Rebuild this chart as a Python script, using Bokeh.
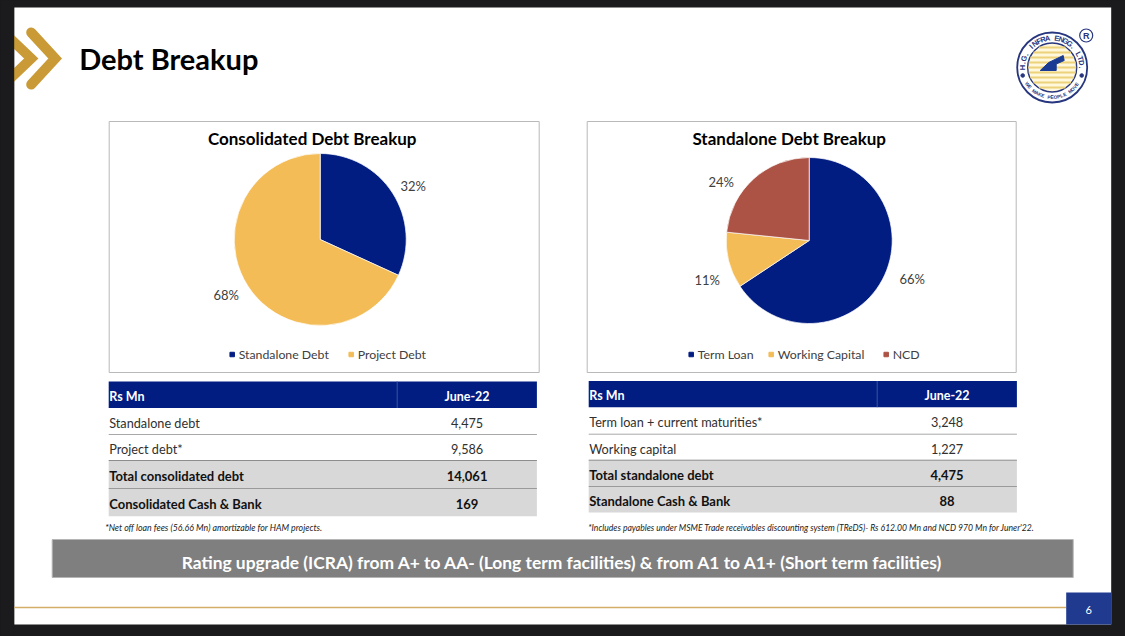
import math
import numpy as np
from bokeh.plotting import figure
from bokeh.models import Range1d
from bokeh.core.properties import value
from bokeh.embed import file_html
from bokeh.resources import INLINE

FONT = "Lato"
title_text = "Debt Breakup"
banner_text = "Rating upgrade (ICRA) from A+ to AA- (Long term facilities) & from A1 to A1+ (Short term facilities)"
page_number = "6"

cons_title = "Consolidated Debt Breakup"
cons_labels = ["Standalone Debt", "Project Debt"]
cons_values = [4475, 9586]
cons_pct = ["32%", "68%"]

stand_title = "Standalone Debt Breakup"
stand_labels = ["Term Loan", "Working Capital", "NCD"]
stand_values = [65.7, 10.9, 23.4]
stand_pct = ["66%", "11%", "24%"]

NAVY, GOLD, RUST = "#021d82", "#f3bc56", "#ad5345"
cons_colors = [NAVY, GOLD]
stand_colors = [NAVY, GOLD, RUST]

table_head = ["Rs Mn", "June-22"]
cons_rows = ["Standalone debt", "Project debt*", "Total consolidated debt", "Consolidated Cash & Bank"]
cons_cells = ["4,475", "9,586", "14,061", "169"]
stand_rows = ["Term loan + current maturities*", "Working capital", "Total standalone debt", "Standalone Cash & Bank"]
stand_cells = ["3,248", "1,227", "4,475", "88"]
cons_note = "*Net off loan fees (56.66 Mn) amortizable for HAM projects."
stand_note = "*Includes payables under MSME Trade receivables discounting system (TReDS)- Rs 612.00 Mn and NCD 970 Mn for Juner'22."

p = figure(width=1125, height=636, output_backend="svg", toolbar_location=None,
           x_range=Range1d(0.3, 1125.3), y_range=Range1d(-1, 635),
           background_fill_color="#1b1b1d", border_fill_color="#1b1b1d",
           min_border=0, outline_line_color=None)
p.axis.visible = False
p.grid.visible = False

def Y(py):
    return 636 - py

def box(x0, x1, y0, y1, fill=None, line=None, lw=1):
    p.quad(left=[x0], right=[x1], top=[Y(y0)], bottom=[Y(y1)], fill_color=fill,
           fill_alpha=1 if fill else 0, line_color=line, line_width=lw)

def hline(x0, x1, y, color, lw=1):
    p.line([x0, x1], [Y(y), Y(y)], line_color=color, line_width=lw)

def txt(x, y, s, size, color="#000000", style="normal", align="left", font=FONT, angle=0):
    p.text([x], [Y(y)], text=[s], text_font=value(font), text_font_size=f"{size}px",
           text_color=color, text_font_style=style, text_align=align,
           text_baseline="middle", angle=angle)

# slide
box(14, 1111, 8, 625, fill="#ffffff")
p.multi_line([[31, 55, 31], [8, 31, 8]],
             [[Y(33), Y(59), Y(85)], [Y(37), Y(59), Y(81)]],
             line_color="#c99a35", line_width=10, line_cap="round", line_join="miter")
box(0, 14, 0, 636, fill="#1b1b1d")
txt(79, 59, title_text, 29, style="bold")

def pie(cx, cy, r, values, colors):
    v = np.array(values, dtype=float)
    ends = np.cumsum(v) / v.sum() * 2 * math.pi
    starts = np.concatenate([[0], ends[:-1]])
    p.wedge(x=[cx] * len(v), y=[Y(cy)] * len(v), radius=r,
            start_angle=list(math.pi / 2 - starts), end_angle=list(math.pi / 2 - ends),
            direction="clock", fill_color=colors, line_color="#ffffff", line_width=0.7)

def legend(xs, labels, colors, y=355):
    for x, s, c in zip(xs, labels, colors):
        p.scatter([x], [Y(y)], size=4.5, marker="square", fill_color=c, line_color=c)
        txt(x + 6.5, y, s, 12.3, color="#404040")

# consolidated panel
box(109, 539, 122, 373, fill="#ffffff", line="#b9b9b9")
txt(312, 139, cons_title, 17, style="bold", align="center")
pie(320, 240, 86, cons_values, cons_colors)
for (x, y), s in zip([(413, 186), (226, 295)], cons_pct):
    txt(x, y, s, 13, color="#404040", align="center")
legend([232, 351], cons_labels, cons_colors)

# standalone panel
box(587, 1016, 122, 373, fill="#ffffff", line="#b9b9b9")
txt(789, 139, stand_title, 17, style="bold", align="center")
pie(809, 241, 83, stand_values, stand_colors)
for (x, y), s in zip([(912, 279), (707, 280), (721, 182)], stand_pct):
    txt(x, y, s, 13, color="#404040", align="center")
legend([691, 771, 886], stand_labels, stand_colors)

def table(x0, xm, x1, ys, rows, cells):
    box(x0, x1, ys[0], ys[1], fill=NAVY)
    p.line([xm, xm], [Y(ys[0]), Y(ys[1])], line_color="#3a50a0", line_width=1)
    txt(x0 + 0.5, (ys[0] + ys[1]) / 2 + 1.5, table_head[0], 12.5, color="#ffffff", style="bold")
    txt((xm + x1) / 2, (ys[0] + ys[1]) / 2 + 1.5, table_head[1], 12.5, color="#ffffff", style="bold", align="center")
    box(x0, x1, ys[3], ys[5], fill="#d8d8d8")
    for i, (r, c) in enumerate(zip(rows, cells)):
        bold = i >= 2
        ymid = (ys[i + 1] + ys[i + 2]) / 2 + 1.5
        style = "bold" if bold else "normal"
        size = 13 if bold else 12.7
        txt(x0 + 0.5, ymid, r, size, color="#111111" if bold else "#303030", style=style)
        txt((xm + x1) / 2, ymid, c, size, color="#111111" if bold else "#303030", style=style, align="center")
    hline(x0, x1, ys[2], "#a8a8a8")
    hline(x0, x1, ys[3], "#8c8c8c")
    hline(x0, x1, ys[4], "#9a9a9a")

table(108.5, 397, 536.7, [382, 408.5, 435, 461, 489, 516.7], cons_rows, cons_cells)
table(588.5, 877, 1016.7, [381.5, 407.7, 434.7, 460.7, 487, 513], stand_rows, stand_cells)
txt(105, 528, cons_note, 8.8, color="#222222", style="italic")
txt(588, 528, stand_note, 8.6, color="#222222", style="italic")

# banner and footer
box(52, 1073, 540, 578, fill="#7f7f7f", line="#b5b5b5")
txt(562.5, 563, banner_text, 17.4, color="#ffffff", style="bold", align="center")
hline(14, 1066, 608, "#d4ae66", 1.5)
box(1066, 1111, 593, 625, fill="#1f3a8f")
txt(1088.5, 610, page_number, 11, color="#ffffff", align="center")

# logo
LX, LY = 1052, 68
LOGO = "#27367f"
p.circle([LX], [Y(LY)], radius=35, fill_color="#ffffff", line_color=LOGO, line_width=1.8)
p.circle([LX], [Y(LY)], radius=24.5, fill_color="#fff8dc", line_color=LOGO, line_width=1.4)
for dy in range(-20, 24, 5):
    half = math.sqrt(max(24 ** 2 - dy ** 2, 0))
    p.line([LX - half, LX + half], [Y(LY + dy)] * 2, line_color="#ecd27a", line_width=2)
p.patch([LX - 12, LX - 3.5, LX + 11, LX + 12, LX + 4, LX + 4],
        [Y(LY + 3), Y(LY - 5), Y(LY - 12), Y(LY - 7), Y(LY - 3.5), Y(LY + 3)],
        fill_color="#1a3b94", line_color="#1a3b94")
def ring(s, center_deg, step, r, size, flip=False):
    for i, ch in enumerate(s):
        off = (i - (len(s) - 1) / 2) * step
        a = math.radians(center_deg - off if not flip else center_deg + off)
        rot = a - math.pi / 2 if not flip else a + math.pi / 2
        p.text([LX + r * math.cos(a)], [Y(LY) + r * math.sin(a)], text=[ch],
               text_font=value("Liberation Sans"), text_font_size=f"{size}px", text_font_style="bold",
               text_color=LOGO, text_align="center", text_baseline="middle", angle=rot)
ring("H.G. INFRA ENGG. LTD.", 90, 9, 29.5, 7.5)
ring("WE MAKE PEOPLE MOVE", 270, 6.2, 30, 4.8, flip=True)
p.circle([LX - 29.5, LX + 29.5], [Y(LY + 8)] * 2, radius=1.8, fill_color=LOGO, line_color=LOGO)
p.circle([1086], [Y(36)], radius=6.5, fill_color="#ffffff", line_color=LOGO, line_width=1.2)
txt(1086, 36, "R", 9, color=LOGO, style="bold", align="center", font="Liberation Sans")

html = file_html(p, INLINE).replace("</head>", "<style>html,body{background:#1b1b1d;margin:0;overflow:hidden}</style></head>", 1)
open("out.html", "w").write(html)
